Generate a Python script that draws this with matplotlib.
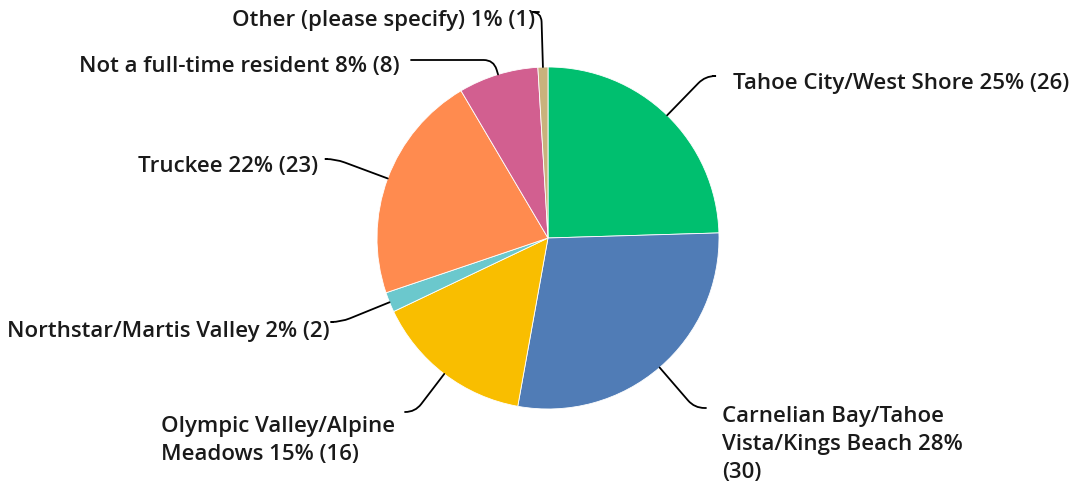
import matplotlib.pyplot as plt
import numpy as np

labels = ['Tahoe City/West Shore', 'Carnelian Bay/Tahoe\nVista/Kings Beach', 'Olympic Valley/Alpine\nMeadows',
          'Northstar/Martis Valley', 'Truckee', 'Not a full-time resident', 'Other (please specify)']
counts = [26, 30, 16, 2, 23, 8, 1]
pcts = [25, 28, 15, 2, 22, 8, 1]
colors = ['#00BF6F', '#507CB6', '#F9BE00', '#6BC8CD', '#FF8B4F', '#D25F90', '#C9B27C']
count_sep = [' ', '\n', ' ', ' ', ' ', ' ', ' ']

W, H = 1078, 491
fig = plt.figure(figsize=(W / 100, H / 100), dpi=100)
ax = fig.add_axes([0, 0, 1, 1])

cx, cy, R = 548, H - 238, 171
wedges, _ = ax.pie(counts, colors=colors, startangle=90, counterclock=False,
                   center=(cx, cy), radius=R, frame=True,
                   wedgeprops=dict(linewidth=0.6, edgecolor='white'))
ax.set_xlim(0, W)
ax.set_ylim(0, H)
ax.set_aspect('equal')
ax.axis('off')

# label layout: text anchor, alignment, connector end
txt_pos = [(733, 83, 'left', 'center'), (722, 406, 'left', 'top'), (395, 416, 'right', 'top'),
           (330, 331, 'right', 'center'), (318, 166, 'right', 'center'), (400, 66, 'right', 'center'),
           (535, 20, 'right', 'center')]
line_end = [(713, 76), (706, 408), (405, 412), (333, 322), (327, 159), (411, 60), (539, 12)]

for w, lab, c, p, sep, tp, le in zip(wedges, labels, counts, pcts, count_sep, txt_pos, line_end):
    mid_deg = (w.theta1 + w.theta2) / 2
    mid = np.deg2rad(mid_deg)
    ex, ey = cx + R * np.cos(mid), cy + R * np.sin(mid)
    ax.annotate('', xy=(ex, ey), xytext=(le[0], H - le[1]),
                arrowprops=dict(arrowstyle='-', color='black', lw=1.3,
                                connectionstyle=f'angle,angleA=0,angleB={mid_deg:.1f},rad=10',
                                shrinkA=0, shrinkB=0))
    ax.text(tp[0], H - tp[1], f'{lab} {p}%{sep}({c})', ha=tp[2], va=tp[3], multialignment='left',
            fontsize=16, fontfamily='Open Sans', fontweight='semibold', color='#1a1a1a',
            linespacing=1.45)

fig.savefig('out.png', dpi=100)
